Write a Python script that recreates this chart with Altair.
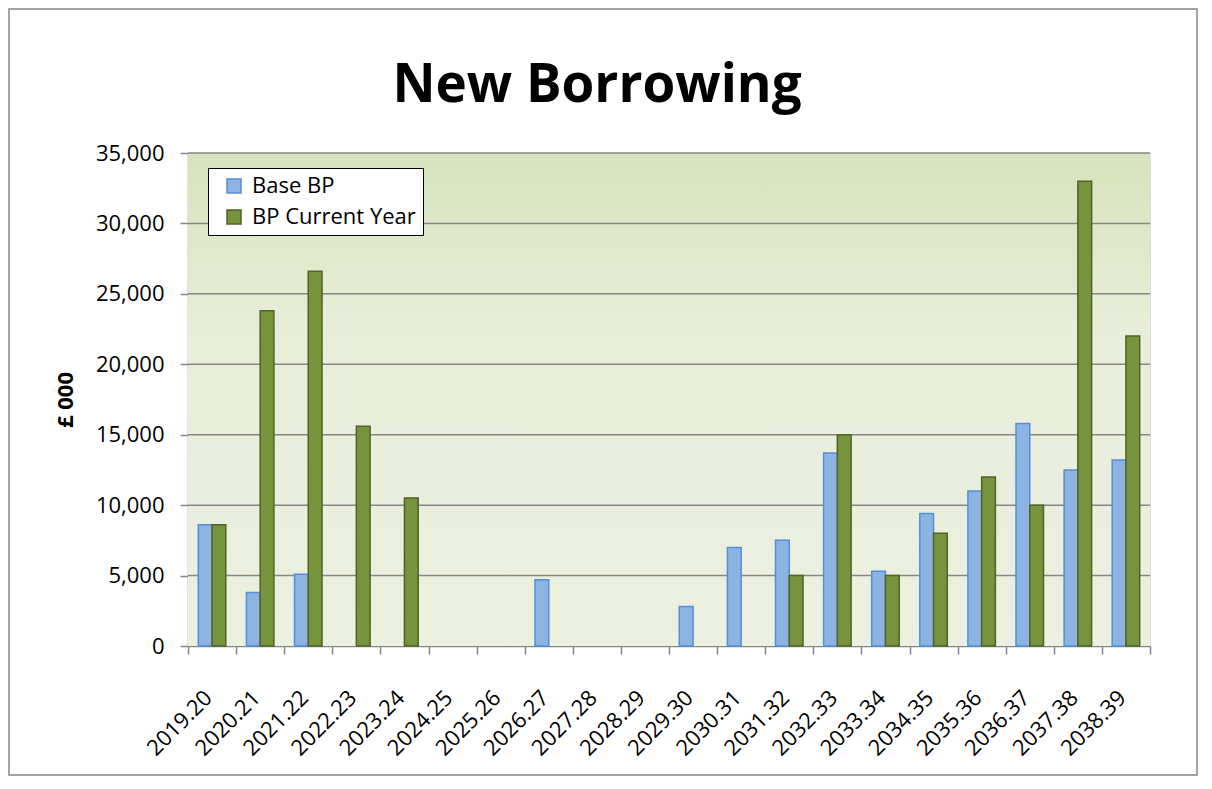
import altair as alt
import pandas as pd

years = ["2019.20", "2020.21", "2021.22", "2022.23", "2023.24", "2024.25", "2025.26",
         "2026.27", "2027.28", "2028.29", "2029.30", "2030.31", "2031.32", "2032.33",
         "2033.34", "2034.35", "2035.36", "2036.37", "2037.38", "2038.39"]
base_bp = [8600, 3800, 5100, 0, 0, 0, 0, 4700, 0, 0, 2800, 7000, 7500, 13700,
           5300, 9400, 11000, 15800, 12500, 13200]
bp_current = [8600, 23800, 26600, 15600, 10500, 0, 0, 0, 0, 0, 0, 0, 5000, 15000,
              5000, 8000, 12000, 10000, 33000, 22000]
series = ["Base BP", "BP Current Year"]
fill_colors = ["#8db3e2", "#77933c"]
stroke_colors = ["#558ed5", "#4f6228"]
y_ticks = [0, 5000, 10000, 15000, 20000, 25000, 30000, 35000]
chart_title = "New Borrowing"
y_title = "£ 000"

rows = []
for i, yr in enumerate(years):
    rows.append({"year": yr, "series": series[0], "value": base_bp[i]})
    rows.append({"year": yr, "series": series[1], "value": bp_current[i]})
df = pd.DataFrame(rows)
grid_df = pd.DataFrame({"g": y_ticks[1:]})

W, H = 962, 493
PAD = {"left": 180, "top": 145, "right": 48, "bottom": 130}
FONT = "Open Sans"
GRAY = "#868686"

y_scale = alt.Scale(domain=[0, 35000], nice=False)
y_axis = alt.Axis(values=y_ticks, format=",.0f", labelFont=FONT, labelFontSize=22,
                  labelColor="black", labelPadding=16, tickSize=8, tickColor=GRAY,
                  tickWidth=1.5, domainColor=GRAY, domainWidth=1.5, grid=False,
                  titleFont=FONT, titleFontSize=22, titleFontWeight="bold",
                  titleColor="black", titlePadding=18)

bg = alt.Chart(pd.DataFrame({"a": [0]})).mark_rect(
    fill=alt.Gradient(
        gradient="linear", x1=0, y1=0, x2=0, y2=1,
        stops=[alt.GradientStop(color="#d6e3bb", offset=0),
               alt.GradientStop(color="#e9eedb", offset=0.38),
               alt.GradientStop(color="#ebf0df", offset=1)]),
).encode(x=alt.value(0), x2=alt.value(W), y=alt.value(0), y2=alt.value(H))

border = alt.Chart(pd.DataFrame({"a": [0]})).mark_rect(
    fill=None, stroke=GRAY, strokeWidth=1.5
).encode(x=alt.value(-PAD["left"] + 1), x2=alt.value(W + PAD["right"] - 1),
         y=alt.value(-PAD["top"] + 1), y2=alt.value(H + PAD["bottom"] - 1))

title_mark = alt.Chart(pd.DataFrame({"t": [chart_title]})).mark_text(
    font=FONT, fontSize=53, fontWeight="bold", color="black",
    align="center", baseline="alphabetic"
).encode(text="t:N", x=alt.value(409), y=alt.value(-51))

grid = alt.Chart(grid_df).mark_rule(stroke=GRAY, strokeWidth=1.5).encode(
    x=alt.value(0), x2=alt.value(W),
    y=alt.Y("g:Q", scale=y_scale, title=y_title, axis=y_axis),
)

bars = alt.Chart(df).transform_filter("datum.value > 0").mark_bar(strokeWidth=1.5).encode(
    x=alt.X("year:N", sort=years, title=None,
            scale=alt.Scale(domain=years, paddingInner=0, paddingOuter=0),
            axis=alt.Axis(labelAngle=-45, labelAlign="right", labelBaseline="middle",
                          labelFont=FONT, labelFontSize=22, labelColor="black",
                          labelPadding=40, labelOffset=-4, tickBand="extent", ticks=True,
                          tickSize=8, tickColor=GRAY, tickWidth=1.5, domainColor=GRAY,
                          domainWidth=1.5, grid=False, labelOverlap=False)),
    xOffset=alt.XOffset("series:N", sort=series,
                        scale=alt.Scale(domain=series, paddingInner=0, paddingOuter=0.75)),
    y=alt.Y("value:Q", scale=y_scale, title=y_title, axis=y_axis),
    color=alt.Color("series:N", sort=series,
                    scale=alt.Scale(domain=series, range=fill_colors),
                    legend=alt.Legend(title=None, orient="none", legendX=20, legendY=15,
                                      fillColor="white", strokeColor="black",
                                      padding=7, symbolOffset=8, symbolType="square",
                                      symbolSize=196, symbolStrokeWidth=1.5,
                                      labelFont=FONT, labelFontSize=22,
                                      labelColor="black", labelLimit=400,
                                      rowPadding=9, labelOffset=7)),
    stroke=alt.Stroke("series:N", sort=series,
                      scale=alt.Scale(domain=series, range=stroke_colors), legend=None),
)

chart = alt.layer(bg, border, title_mark, grid, bars).properties(
    width=W, height=H,
    autosize=alt.AutoSizeParams(type="none"),
    padding=PAD,
).configure_view(stroke=None).configure(background="white")

chart.save("out.html", embed_options={"renderer": "svg", "actions": False})
